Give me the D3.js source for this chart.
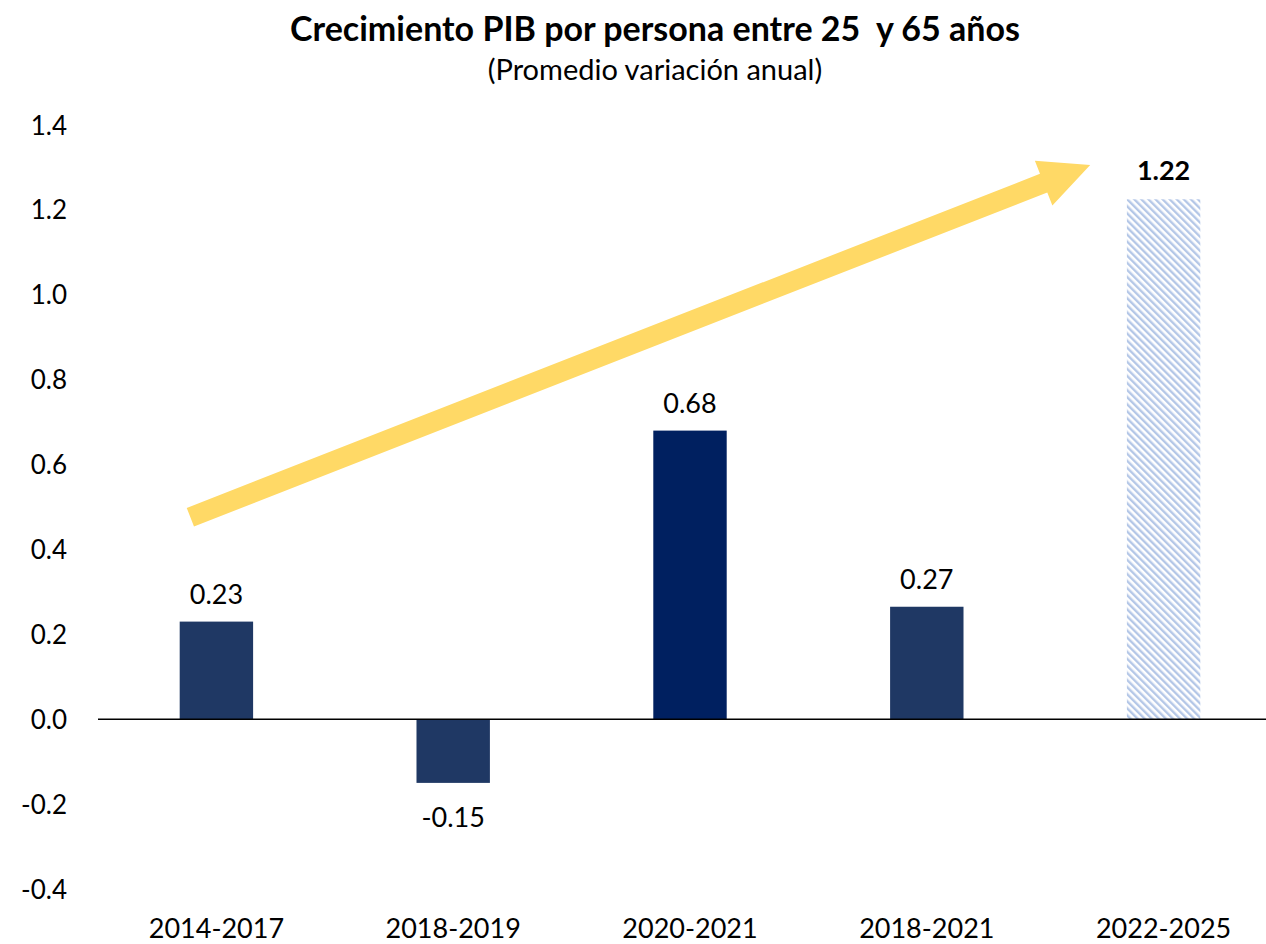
<!DOCTYPE html>
<html>
<head>
<meta charset="utf-8">
<script src="https://cdn.jsdelivr.net/npm/d3@7"></script>
<style>
	body { margin: 0; background: #fff; }
	svg text { font-family: Lato, "Open Sans", sans-serif; fill: #000; }
</style>
</head>
<body>
<svg id="chart" width="1266" height="944"></svg>
<script>
const periods = ["2014-2017", "2018-2019", "2020-2021", "2018-2021", "2022-2025"];
const values = [0.23, -0.15, 0.68, 0.265, 1.225];
const valueLabels = ["0.23", "-0.15", "0.68", "0.27", "1.22"];
const yTicks = [-0.4, -0.2, 0.0, 0.2, 0.4, 0.6, 0.8, 1.0, 1.2, 1.4];
// trend arrow, in (category index, value) units
const trendArrow = [[-0.11, 0.476], [3.69, 1.306]];

const svg = d3.select("#chart"),
	width = +svg.attr("width"),
	height = +svg.attr("height");

const x = d3.scaleBand()
	.domain(periods)
	.range([98, 1282])
	.paddingInner(0.69)
	.paddingOuter(0.345);

// index -> pixel, for the arrow
const xi = d3.scaleLinear()
	.domain([0, periods.length - 1])
	.range([x(periods[0]) + x.bandwidth() / 2, x(periods[periods.length - 1]) + x.bandwidth() / 2]);

const y = d3.scaleLinear()
	.domain([-0.4, 1.4])
	.range([889, 125]);

const defs = svg.append("defs");
defs.append("pattern")
	.attr("id", "hatch")
	.attr("patternUnits", "userSpaceOnUse")
	.attr("width", 5)
	.attr("height", 5)
	.attr("patternTransform", "rotate(-45)")
	.call(p => {
		p.append("rect").attr("width", 5).attr("height", 5).attr("fill", "#fff");
		p.append("rect").attr("width", 2.4).attr("height", 5).attr("fill", "#B4C7E7");
	});

// title
svg.append("text")
	.attr("x", 655)
	.attr("y", 41)
	.attr("text-anchor", "middle")
	.attr("font-weight", "bold")
	.attr("font-size", "34px")
	.attr("xml:space", "preserve")
	.text("Crecimiento PIB por persona entre 25  y 65 años");

svg.append("text")
	.attr("x", 655)
	.attr("y", 80)
	.attr("text-anchor", "middle")
	.attr("font-size", "29px")
	.text("(Promedio variación anual)");

// y axis (labels only)
const yAxis = svg.append("g")
	.attr("transform", "translate(67,0)")
	.call(d3.axisLeft(y).tickValues(yTicks)
		.tickFormat(d => d3.format(".1f")(d).replace("\u2212", "-"))
		.tickSize(0).tickPadding(0));
yAxis.select(".domain").remove();
yAxis.selectAll("text")
	.attr("font-size", "26px")
	.attr("font-family", "Lato, sans-serif")
	.attr("fill", "#000")
	.attr("dy", "0.35em");

// bars
svg.append("g")
	.selectAll("rect")
	.data(periods)
	.enter().append("rect")
		.attr("x", d => x(d))
		.attr("width", x.bandwidth())
		.attr("y", (d, i) => y(Math.max(0, values[i])))
		.attr("height", (d, i) => Math.abs(y(values[i]) - y(0)))
		.attr("fill", (d, i) => i === 4 ? "url(#hatch)" : (i === 2 ? "#002060" : "#1F3864"));

// zero line
svg.append("line")
	.attr("x1", 98)
	.attr("x2", width)
	.attr("y1", y(0))
	.attr("y2", y(0))
	.attr("stroke", "#000")
	.attr("stroke-width", 1.5);

// category labels
const xAxis = svg.append("g")
	.attr("transform", "translate(0,929)")
	.call(d3.axisBottom(x).tickSize(0).tickPadding(0));
xAxis.select(".domain").remove();
xAxis.selectAll("text")
	.attr("font-size", "27px")
	.attr("font-family", "Lato, sans-serif")
	.attr("fill", "#000")
	.attr("dy", "0.35em");

// value labels
svg.append("g")
	.selectAll("text")
	.data(periods)
	.enter().append("text")
		.attr("x", d => x(d) + x.bandwidth() / 2)
		.attr("y", (d, i) => values[i] >= 0 ? y(values[i]) - (i === 4 ? 19 : 18) : y(values[i]) + 44)
		.attr("text-anchor", "middle")
		.attr("font-size", "27px")
		.attr("font-weight", (d, i) => i === 4 ? "bold" : "normal")
		.text((d, i) => valueLabels[i]);

// trend arrow
const [p0, p1] = trendArrow.map(([i, v]) => [xi(i), y(v)]);
const ang = Math.atan2(p1[1] - p0[1], p1[0] - p0[0]);
const headLen = 50, headHalf = 24, shaft = 10;
const ux = Math.cos(ang), uy = Math.sin(ang), nx = -uy, ny = ux;
const bx = p1[0] - ux * headLen, by = p1[1] - uy * headLen;
const arrowPts = [
	[p0[0] + nx * shaft, p0[1] + ny * shaft],
	[bx + nx * shaft, by + ny * shaft],
	[bx + nx * headHalf, by + ny * headHalf],
	p1,
	[bx - nx * headHalf, by - ny * headHalf],
	[bx - nx * shaft, by - ny * shaft],
	[p0[0] - nx * shaft, p0[1] - ny * shaft]
];
svg.append("path")
	.attr("d", d3.line()(arrowPts) + "Z")
	.attr("fill", "#FFD966");
</script>
</body>
</html>
